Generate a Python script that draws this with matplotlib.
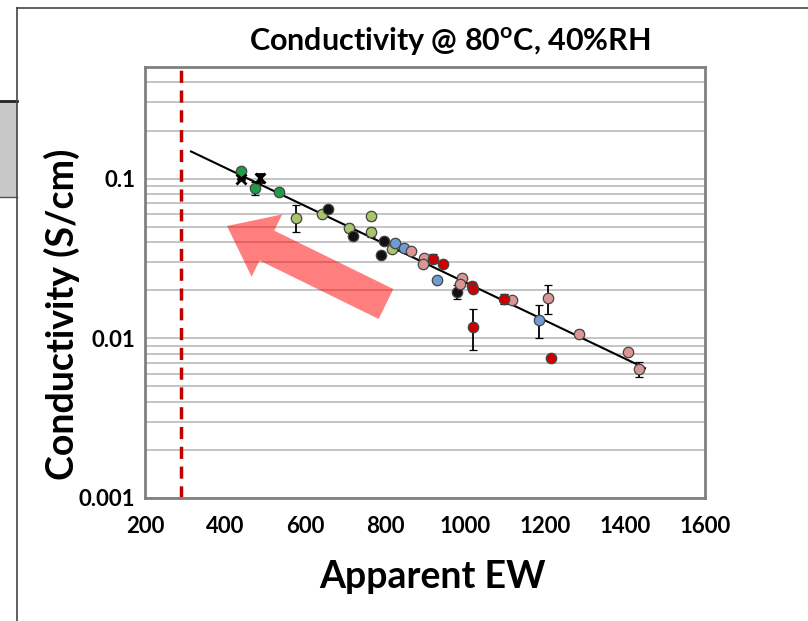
import numpy as np
import matplotlib
matplotlib.use("Agg")
import matplotlib.pyplot as plt
from matplotlib.patches import Rectangle
from matplotlib.lines import Line2D
from matplotlib.ticker import FixedLocator, NullFormatter

plt.rcParams["font.family"] = ["Lato", "DejaVu Sans"]
plt.rcParams["font.weight"] = "bold"

# data (apparent EW, conductivity S/cm, error)
green_ew = [439, 475, 535]
green_s = [0.111, 0.0875, 0.082]
green_err = [0, 0.008, 0]

cross_ew = [439, 487]
cross_s = [0.0996, 0.101]
cross_err = [0, 0.006]

lgreen_ew = [577, 642, 711, 765, 765, 817]
lgreen_s = [0.057, 0.060, 0.049, 0.058, 0.0462, 0.0363]
lgreen_err = [0.011, 0, 0.003, 0.003, 0.003, 0]

black_ew = [658, 721, 798, 790, 979]
black_s = [0.0646, 0.044, 0.0406, 0.0334, 0.0196]
black_err = [0, 0.002, 0, 0, 0.002]

blue_ew = [825, 848, 931, 1186]
blue_s = [0.0393, 0.037, 0.0232, 0.0131]
blue_err = [0, 0, 0, 0.003]

pink_ew = [866, 897, 896, 992, 987, 1117, 1207, 1286, 1408, 1436]
pink_s = [0.035, 0.0319, 0.029, 0.0239, 0.0218, 0.0174, 0.0178, 0.0107, 0.0082, 0.0064]
pink_err = [0, 0, 0, 0, 0, 0, 0.0037, 0.0005, 0, 0.0007]

red_ew = [921, 946, 1017, 1021, 1019, 1097, 1214]
red_s = [0.0316, 0.029, 0.0214, 0.0203, 0.0118, 0.0177, 0.0075]
red_err = [0.002, 0, 0.001, 0, 0.0034, 0.0012, 0]

fit_ew = [315, 1450]
fit_s = [0.148, 0.0065]

limit_ew = 290

xticks = [200, 400, 600, 800, 1000, 1200, 1400, 1600]
yticks = [0.001, 0.01, 0.1]
ytick_labels = ["0.001", "0.01", "0.1"]

fig = plt.figure(figsize=(8.08, 6.21), dpi=100)

# slide frame and grey box behind the chart
fig.add_artist(Rectangle((0, 1 - 197 / 621), 17 / 808, 95 / 621,
                         transform=fig.transFigure, facecolor="#c8c8c8",
                         edgecolor="none", zorder=0))
fig.add_artist(Line2D([0, 17 / 808], [1 - 101 / 621] * 2, transform=fig.transFigure,
                      color="#222222", lw=2))
fig.add_artist(Line2D([0, 17 / 808], [1 - 197 / 621] * 2, transform=fig.transFigure,
                      color="#555555", lw=1))
fig.add_artist(Line2D([17 / 808, 17 / 808], [0, 1 - 8 / 621], transform=fig.transFigure,
                      color="#444444", lw=1.2))
fig.add_artist(Line2D([17 / 808, 1], [1 - 8 / 621] * 2, transform=fig.transFigure,
                      color="#444444", lw=1.2))

ax = fig.add_axes([145 / 808, 1 - 498 / 621, 560 / 808, 431 / 621])
ax.set_yscale("log")
ax.set_xlim(200, 1600)
ax.set_ylim(0.001, 0.5)

minor = [m * 10.0 ** e for e in (-3, -2, -1) for m in range(2, 10) if m * 10.0 ** e <= 0.5]
ax.yaxis.set_major_locator(FixedLocator(yticks))
ax.yaxis.set_minor_locator(FixedLocator(minor))
ax.yaxis.set_minor_formatter(NullFormatter())
ax.set_yticklabels(ytick_labels)
ax.set_xticks(xticks)
ax.grid(True, which="both", axis="y", color="#bfbfbf", lw=1.3)
ax.set_axisbelow(True)
ax.tick_params(which="both", length=0)
ax.tick_params(axis="x", pad=13, labelsize=16)
ax.tick_params(axis="y", pad=7, labelsize=16)
for lab in ax.get_xticklabels() + ax.get_yticklabels():
    lab.set_fontweight("bold")
for sp in ax.spines.values():
    sp.set_color("#808080")
    sp.set_linewidth(2)

ax.axvline(limit_ew, color="#c00000", lw=2.5, ls=(0, (3.5, 2.2)), zorder=2)
ax.plot(fit_ew, fit_s, color="black", lw=1.5, zorder=3)

series = [
    (lgreen_ew, lgreen_s, lgreen_err, "#a9c46c", "o"),
    (black_ew, black_s, black_err, "#111111", "o"),
    (blue_ew, blue_s, blue_err, "#6f9bd3", "o"),
    (pink_ew, pink_s, pink_err, "#d99694", "o"),
    (red_ew, red_s, red_err, "#cc0000", "o"),
    (green_ew, green_s, green_err, "#1f9c48", "o"),
]
for xs, ys, err, col, mk in series:
    ax.errorbar(xs, ys, yerr=err, fmt=mk, ms=7.5, mfc=col, mec="#444444", mew=0.9,
                ecolor="black", elinewidth=1.3, capsize=3, capthick=1.3, zorder=4)
ax.errorbar(cross_ew, cross_s, yerr=cross_err, fmt="x", ms=7, color="black", mew=2,
            ecolor="black", elinewidth=1.3, capsize=3, capthick=1.3, zorder=5)

# trend arrow
ax.annotate("", xy=(227, 621 - 226), xytext=(386, 621 - 304), xycoords="figure pixels",
            textcoords="figure pixels",
            arrowprops=dict(arrowstyle="simple,tail_width=24,head_width=50,head_length=32",
                            mutation_scale=1, color="red", alpha=0.5, lw=0,
                            shrinkA=0, shrinkB=0), zorder=6)

fig.text(450 / 808, 1 - 42 / 621, "Conductivity @ 80$^{\\mathregular{o}}$C, 40%RH",
         ha="center", va="center", fontsize=22, fontweight="bold")
fig.text(62 / 808, 1 - 314 / 621, "Conductivity (S/cm)", rotation=90,
         ha="center", va="center", fontsize=27, fontweight="bold")
fig.text(432 / 808, 1 - 577 / 621, "Apparent EW",
         ha="center", va="center", fontsize=27, fontweight="bold")

fig.savefig("out.png", dpi=100)
